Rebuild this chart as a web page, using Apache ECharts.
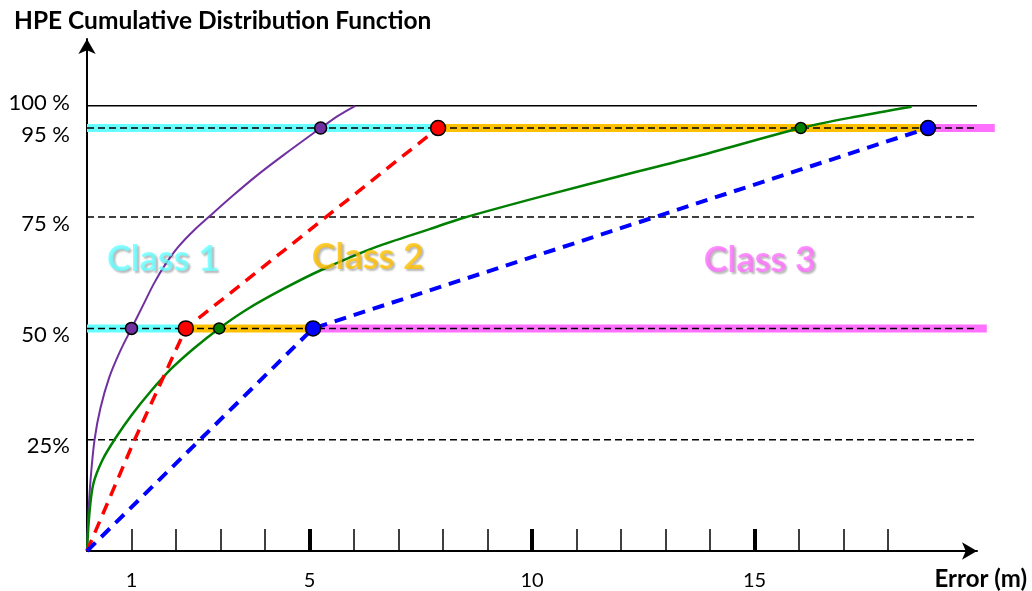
<!DOCTYPE html>
<html>
<head>
<meta charset="utf-8">
<title>HPE Cumulative Distribution Function</title>
<script src="https://cdn.jsdelivr.net/npm/echarts@6/dist/echarts.min.js"></script>
<style>
  html, body { margin: 0; padding: 0; background: #fff; }
  #chart { width: 1032px; height: 591px; }
</style>
</head>
<body>
<div id="chart"></div>
<script>
// ---- data ----------------------------------------------------------------
// horizontal error (m) vs cumulative probability (%)
const purpleCurve = [[0, 0], [0.03, 8], [0.08, 16], [0.17, 25], [0.3, 32], [0.5, 39], [0.75, 45], [1, 50], [1.25, 55], [1.5, 60], [1.75, 64.2], [2.05, 68.3], [2.4, 72], [2.8, 75.6], [3.3, 80], [3.8, 84.2], [4.4, 88.8], [5.25, 95], [5.65, 97.8], [6.03, 100]];
const greenCurve = [[0, 0], [0.05, 8], [0.14, 15], [0.35, 20.5], [0.65, 25.5], [1.0, 30.5], [1.4, 35.5], [1.9, 41], [2.4, 45.5], [2.97, 50], [3.6, 54.3], [4.4, 58.8], [5.24, 63], [6.5, 68.3], [7.7, 72.3], [8.45, 74.8], [10.2, 79.6], [12.2, 84.8], [13.7, 88.6], [16.04, 95], [17.3, 97.6], [18.53, 99.8]];
const redCurve = [[0, 0], [1.07, 25], [2.22, 50], [7.89, 95]];
const blueCurve = [[0, 0], [5.08, 50], [18.9, 95]];

// 50 % and 95 % points of each curve
const purpleDots = [[1, 50], [5.25, 95]];
const greenDots = [[2.97, 50], [16.04, 95]];
const redDots = [[2.22, 50], [7.89, 95]];
const blueDots = [[5.08, 50], [18.9, 95]];

// class bands along the 50 % and 95 % levels
const class1Bands = [[[0, 50], [2.22, 50]], [[0, 95], [7.89, 95]]];
const class2Bands = [[[2.22, 50], [5.08, 50]], [[7.89, 95], [18.9, 95]]];
const class3Bands = [[[5.08, 50], [20.22, 50]], [[18.9, 95], [20.4, 95]]];

const classNames = ['Class 1', 'Class 2', 'Class 3'];
const classAnchors = [[1.71, 65.6], [6.31, 66], [15.12, 65.2]];

const guideLevels = [25, 50, 75, 95];
const topLevel = 100;

const xMinorTicks = [1, 2, 3, 4, 5, 6, 7, 8, 9, 10, 11, 12, 13, 14, 15, 16, 17, 18];
const xMajorTicks = [5, 10, 15];
const xTickLabels = [1, 5, 10, 15];
const yTickValues = [25, 50, 75, 95, 100];
const yTickLabels = ['25%', '50 %', '75 %', '95 %', '100 %'];

// ---- styling -------------------------------------------------------------
const FONT = 'Lato, "Open Sans", sans-serif';
const CYAN = '#66FFFF', ORANGE = '#FFC000', MAGENTA = '#FF70FF';
const X_MAX = 20, Y_MAX = 115;
// the band layer sits on a slightly wider grid with the same scale,
// so the class 3 bands can run past the end of the axis
const PX_PER_UNIT = (1032 - 87 - 55) / X_MAX;
const BAND_RIGHT = 37;
const BAND_X_MAX = (1032 - 87 - BAND_RIGHT) / PX_PER_UNIT;

function band(seg, color) {
  return {
    type: 'line', data: seg, symbol: 'none', silent: true, z: 1,
    xAxisIndex: 2, yAxisIndex: 1,
    lineStyle: { color: color, width: 8, cap: 'butt' }
  };
}
function level(y, dashed) {
  return {
    type: 'line', data: [[0, y], [X_MAX, y]], symbol: 'none', silent: true, z: 2,
    lineStyle: { color: '#000', width: 1.5, type: dashed ? [7, 4] : 'solid' }
  };
}
function dots(data, color, size) {
  return {
    type: 'scatter', data: data, symbolSize: size, z: 10,
    itemStyle: { color: color, borderColor: '#000', borderWidth: 1.5, opacity: 1 }
  };
}

const series = [];
class1Bands.forEach(s => series.push(band(s, CYAN)));
class2Bands.forEach(s => series.push(band(s, ORANGE)));
class3Bands.forEach(s => series.push(band(s, MAGENTA)));
guideLevels.forEach(y => series.push(level(y, true)));
series.push(level(topLevel, false));

series.push({
  type: 'line', data: purpleCurve, symbol: 'none', smooth: 0.3, z: 5,
  lineStyle: { color: '#7030A0', width: 2 }
});
series.push({
  type: 'line', data: greenCurve, symbol: 'none', smooth: 0.3, z: 5,
  lineStyle: { color: '#008000', width: 2.5 }
});
series.push({
  type: 'line', data: redCurve, symbol: 'none', z: 5,
  lineStyle: { color: '#FF0000', width: 3.5, type: [12, 8], cap: 'butt' }
});
series.push({
  type: 'line', data: blueCurve, symbol: 'none', z: 5,
  lineStyle: { color: '#0000FF', width: 4, type: [12, 8], cap: 'butt' }
});

series.push(dots(purpleDots, '#7030A0', 12));
series.push(dots(greenDots, '#008000', 11));
series.push(dots(redDots, '#FF0000', 15));
series.push(dots(blueDots, '#0000FF', 15));

// class captions
const classColors = [CYAN, ORANGE, MAGENTA];
series.push({
  type: 'scatter', symbolSize: 0, silent: true, z: 8,
  data: classNames.map((n, i) => ({
    name: n, value: classAnchors[i],
    label: { color: classColors[i] }
  })),
  label: {
    show: true, position: 'inside', formatter: p => p.name,
    fontFamily: FONT, fontSize: 36, fontWeight: 'bold',
    textShadowColor: 'rgba(0,0,0,0.35)', textShadowBlur: 2,
    textShadowOffsetX: 2, textShadowOffsetY: 2
  }
});

const chart = echarts.init(document.getElementById('chart'), null, { renderer: 'canvas' });
chart.setOption({
  animation: false,
  backgroundColor: '#fff',
  textStyle: { fontFamily: FONT },
  title: [
    { text: 'HPE Cumulative Distribution Function', left: 9, top: 4,
      textStyle: { fontFamily: FONT, fontSize: 24.5, fontWeight: 'bold', color: '#000' } },
    { text: 'Error (m)', right: 0, top: 562,
      textStyle: { fontFamily: FONT, fontSize: 24, fontWeight: 'bold', color: '#000' } }
  ],
  grid: [
    { left: 87, right: 55, top: 39, bottom: 40, containLabel: false },
    { left: 87, right: BAND_RIGHT, top: 39, bottom: 40, containLabel: false }
  ],
  xAxis: [
    {
      type: 'value', gridIndex: 0, min: 0, max: X_MAX, interval: 1, splitLine: { show: false },
      axisLine: { show: true, lineStyle: { color: '#000', width: 2 }, symbol: ['none', 'arrow'], symbolSize: [13, 15] },
      axisTick: { show: true, inside: true, length: 22, customValues: xMinorTicks, lineStyle: { color: '#000', width: 1.5 } },
      axisLabel: { show: true, customValues: xTickLabels, margin: 20, fontSize: 20, color: '#000', fontFamily: FONT }
    },
    {
      type: 'value', gridIndex: 0, min: 0, max: X_MAX, interval: 1, position: 'bottom', splitLine: { show: false },
      axisLine: { show: false },
      axisTick: { show: true, inside: true, length: 22, customValues: xMajorTicks, lineStyle: { color: '#000', width: 4 } },
      axisLabel: { show: false }
    },
    {
      type: 'value', gridIndex: 1, min: 0, max: BAND_X_MAX, show: false
    }
  ],
  yAxis: [
    {
      type: 'value', gridIndex: 0, min: 0, max: Y_MAX, splitLine: { show: false },
      axisLine: { show: true, lineStyle: { color: '#000', width: 2 }, symbol: ['none', 'arrow'], symbolSize: [13, 15] },
      axisTick: { show: false },
      axisLabel: {
        show: true, customValues: yTickValues, margin: 17, color: '#000',
        formatter: v => {
          const t = yTickLabels[yTickValues.indexOf(v)];
          return v === topLevel ? '{up|' + t + '}' : '{dn|' + t + '}';
        },
        rich: {
          up: { fontSize: 22, fontFamily: FONT, color: '#000', padding: [0, 0, 6, 0] },
          dn: { fontSize: 22, fontFamily: FONT, color: '#000', padding: [13, 0, 0, 0] }
        }
      }
    },
    {
      type: 'value', gridIndex: 1, min: 0, max: Y_MAX, show: false
    }
  ],
  series: series
});
</script>
</body>
</html>
